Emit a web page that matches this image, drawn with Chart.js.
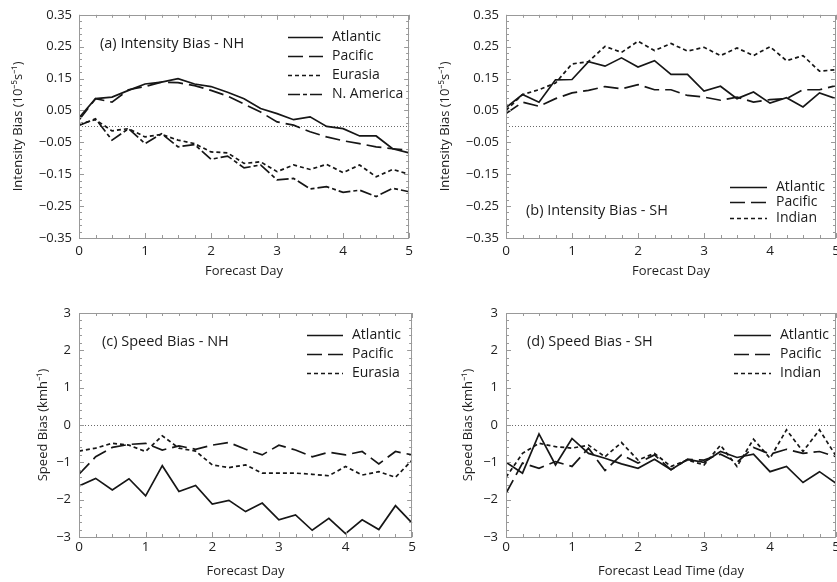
<!DOCTYPE html>
<html>
<head>
<meta charset="utf-8">
<script src="https://cdn.jsdelivr.net/npm/chart.js@4.4.0/dist/chart.umd.min.js"></script>
<style>
  html, body { margin: 0; padding: 0; background: #fff; width: 837px; height: 582px; overflow: hidden; }
  canvas { position: absolute; }
</style>
</head>
<body>
<canvas id="panelA" width="418" height="290" style="left:0;top:0"></canvas>
<canvas id="panelB" width="440" height="290" style="left:417px;top:0"></canvas>
<canvas id="panelC" width="418" height="292" style="left:0;top:290px"></canvas>
<canvas id="panelD" width="440" height="292" style="left:417px;top:290px"></canvas>
<script>
// forecast days (every 6 h)
var days = [0, 0.25, 0.5, 0.75, 1, 1.25, 1.5, 1.75, 2, 2.25, 2.5, 2.75, 3, 3.25, 3.5, 3.75, 4, 4.25, 4.5, 4.75, 5];
var xTicks = [0, 1, 2, 3, 4, 5];
var intensityTicks = [-0.35, -0.25, -0.15, -0.05, 0.05, 0.15, 0.25, 0.35];
var speedTicks = [-3, -2, -1, 0, 1, 2, 3];

// (a) intensity bias NH
var nhIntAtlantic = [0.027, 0.087, 0.092, 0.113, 0.133, 0.139, 0.150, 0.133, 0.125, 0.107, 0.087, 0.056, 0.040, 0.021, 0.030, 0.000, -0.007, -0.030, -0.030, -0.070, -0.083];
var nhIntPacific = [0.020, 0.087, 0.076, 0.115, 0.125, 0.139, 0.137, 0.128, 0.113, 0.095, 0.070, 0.045, 0.014, 0.004, -0.017, -0.033, -0.045, -0.054, -0.064, -0.070, -0.075];
var nhIntEurasia = [0.007, 0.021, -0.014, -0.007, -0.033, -0.025, -0.043, -0.054, -0.080, -0.083, -0.116, -0.111, -0.142, -0.121, -0.135, -0.119, -0.145, -0.121, -0.158, -0.135, -0.150];
var nhIntAmerica = [0.003, 0.024, -0.043, -0.007, -0.054, -0.023, -0.064, -0.057, -0.103, -0.093, -0.130, -0.121, -0.168, -0.163, -0.196, -0.189, -0.207, -0.200, -0.220, -0.194, -0.205];

// (b) intensity bias SH
var shIntAtlantic = [0.059, 0.100, 0.076, 0.146, 0.147, 0.203, 0.189, 0.215, 0.186, 0.206, 0.163, 0.163, 0.111, 0.126, 0.087, 0.108, 0.073, 0.090, 0.061, 0.105, 0.087];
var shIntPacific = [0.040, 0.076, 0.063, 0.087, 0.105, 0.113, 0.125, 0.118, 0.131, 0.115, 0.115, 0.097, 0.092, 0.082, 0.092, 0.076, 0.084, 0.087, 0.115, 0.115, 0.128];
var shIntIndian = [0.050, 0.100, 0.115, 0.136, 0.196, 0.203, 0.251, 0.232, 0.267, 0.238, 0.260, 0.236, 0.248, 0.222, 0.246, 0.222, 0.250, 0.206, 0.222, 0.173, 0.178];

// (c) speed bias NH
var nhSpdAtlantic = [-1.63, -1.43, -1.74, -1.44, -1.90, -1.09, -1.78, -1.62, -2.12, -2.02, -2.32, -2.09, -2.54, -2.41, -2.82, -2.50, -2.91, -2.54, -2.80, -2.16, -2.63];
var nhSpdPacific = [-1.32, -0.85, -0.60, -0.52, -0.49, -0.67, -0.56, -0.65, -0.54, -0.47, -0.65, -0.80, -0.54, -0.67, -0.85, -0.73, -0.80, -0.71, -1.04, -0.71, -0.80];
var nhSpdEurasia = [-0.70, -0.62, -0.49, -0.54, -0.71, -0.29, -0.62, -0.70, -1.07, -1.14, -1.07, -1.29, -1.29, -1.29, -1.32, -1.36, -1.11, -1.34, -1.25, -1.40, -0.94];

// (d) speed bias SH
var shSpdAtlantic = [-1.00, -1.29, -0.24, -1.07, -0.36, -0.76, -0.89, -1.04, -1.16, -0.92, -1.20, -0.92, -1.00, -0.71, -0.87, -0.78, -1.25, -1.11, -1.54, -1.25, -1.56];
var shSpdPacific = [-1.83, -1.02, -1.16, -0.98, -1.11, -0.62, -1.22, -0.80, -1.02, -0.80, -1.20, -0.92, -0.94, -0.78, -1.00, -0.60, -0.78, -0.65, -0.76, -0.71, -0.85];
var shSpdIndian = [-1.40, -0.76, -0.49, -0.58, -0.62, -0.54, -0.85, -0.47, -0.94, -0.76, -1.11, -0.94, -1.07, -0.54, -1.11, -0.38, -0.89, -0.13, -0.71, -0.13, -0.83];

var lineDashes = {
  'Atlantic': [],
  'Pacific': [15, 6],
  'Eurasia': [4, 3],
  'Indian': [4, 3],
  'N. America': [12, 3, 4, 3]
};

Chart.defaults.font.family = '"Open Sans", sans-serif';
Chart.defaults.color = '#1e1e1e';

function series(label, values) {
  return {
    label: label,
    data: values.map(function(v, i) { return { x: days[i], y: v }; }),
    borderColor: '#161616',
    borderWidth: 1.7,
    borderDash: lineDashes[label],
    pointRadius: 0,
    tension: 0,
    fill: false
  };
}

function fmt(v, digits) {
  return v.toFixed(digits).replace('-', '\u2212');
}

// frame, inward ticks, zero line, panel label and legend inside the plot
var decor = {
  id: 'decor',
  beforeDatasetsDraw: function(chart, args, o) {
    var ctx = chart.ctx, a = chart.chartArea;
    var y0 = Math.round(chart.scales.y.getPixelForValue(0)) + 0.5;
    ctx.save();
    ctx.strokeStyle = '#6a6a6a';
    ctx.lineWidth = 1;
    ctx.setLineDash([1, 2]);
    ctx.beginPath();
    ctx.moveTo(a.left, y0);
    ctx.lineTo(a.right, y0);
    ctx.stroke();
    ctx.restore();
  },
  afterDatasetsDraw: function(chart, args, o) {
    var ctx = chart.ctx, a = chart.chartArea;
    var xs = chart.scales.x, ys = chart.scales.y;
    ctx.save();
    ctx.strokeStyle = '#999';
    ctx.lineWidth = 1;
    ctx.strokeRect(Math.round(a.left) + 0.5, Math.round(a.top) + 0.5, Math.round(a.width) - 1, Math.round(a.height));
    ctx.beginPath();
    for (var k = 0; k <= 20; k++) {
      var v = xs.min + k * 0.25;
      var px = Math.round(xs.getPixelForValue(v)) + 0.5;
      var len = k % 4 === 0 ? 5 : 3;
      ctx.moveTo(px, a.bottom); ctx.lineTo(px, a.bottom - len);
      ctx.moveTo(px, a.top); ctx.lineTo(px, a.top + len);
    }
    var step = o.yMinor;
    var n = Math.round((ys.max - ys.min) / step);
    for (var j = 0; j <= n; j++) {
      var py = Math.round(ys.getPixelForValue(ys.min + j * step)) + 0.5;
      var l2 = j % 5 === 0 ? 5 : 3;
      ctx.moveTo(a.left, py); ctx.lineTo(a.left + l2, py);
      ctx.moveTo(a.right, py); ctx.lineTo(a.right - l2, py);
    }
    ctx.stroke();

    // panel label
    ctx.fillStyle = '#1a1a1a';
    ctx.textBaseline = 'middle';
    ctx.textAlign = 'left';
    ctx.font = '14.5px "Open Sans"';
    ctx.fillText(o.title, a.left + o.titleDx, a.top + o.titleDy);

    // legend
    ctx.font = '14px "Open Sans"';
    chart.data.datasets.forEach(function(ds, i) {
      var yy = Math.round(a.top + o.legendDy + i * o.legendGap) + 0.5;
      ctx.strokeStyle = ds.borderColor;
      ctx.lineWidth = ds.borderWidth;
      ctx.setLineDash(ds.borderDash);
      ctx.beginPath();
      ctx.moveTo(a.left + o.legendDx, yy);
      ctx.lineTo(a.left + o.legendDx + o.legendLen, yy);
      ctx.stroke();
      ctx.fillText(ds.label, a.left + o.legendDx + o.legendLen + 9, yy);
    });
    ctx.restore();
  }
};

function makePanel(id, cfg) {
  var yTicks = cfg.yTicks;
  new Chart(document.getElementById(id), {
    type: 'line',
    data: { datasets: cfg.datasets },
    plugins: [decor],
    options: {
      responsive: false,
      animation: false,
      layout: { padding: { top: cfg.padTop, right: cfg.padRight, left: 0, bottom: 0 } },
      scales: {
        x: {
          type: 'linear',
          min: 0,
          max: 5,
          afterBuildTicks: function(s) { s.ticks = xTicks.map(function(v) { return { value: v }; }); },
          afterFit: function(s) { s.height = cfg.xHeight; },
          grid: { display: false, drawTicks: false },
          border: { display: false },
          ticks: { padding: cfg.xTickPad, font: { size: 13.5 }, maxRotation: 0 },
          title: { display: true, text: cfg.xTitle, font: { size: 13 }, padding: { top: 0, bottom: cfg.xTitlePad } }
        },
        y: {
          min: yTicks[0],
          max: yTicks[yTicks.length - 1],
          afterBuildTicks: function(s) { s.ticks = yTicks.map(function(v) { return { value: v }; }); },
          afterFit: function(s) { s.width = cfg.yWidth; },
          grid: { display: false, drawTicks: false },
          border: { display: false },
          ticks: {
            padding: cfg.yTickPad,
            font: { size: 13 },
            callback: function(v) { return fmt(v, cfg.digits); }
          },
          title: { display: true, text: cfg.yTitle, font: { size: 13 }, padding: { top: cfg.yTitlePad, bottom: 0 } }
        }
      },
      plugins: {
        legend: { display: false },
        tooltip: { enabled: false },
        decor: {
          yMinor: cfg.yMinor,
          title: cfg.title,
          titleDx: cfg.titleDx, titleDy: cfg.titleDy,
          legendDx: cfg.legendDx, legendDy: cfg.legendDy,
          legendGap: cfg.legendGap, legendLen: cfg.legendLen
        }
      }
    }
  });
}

makePanel('panelA', {
  datasets: [series('Atlantic', nhIntAtlantic), series('Pacific', nhIntPacific), series('Eurasia', nhIntEurasia), series('N. America', nhIntAmerica)],
  yTicks: intensityTicks, digits: 2, yMinor: 0.02,
  yTitle: 'Intensity Bias (10\u207B\u2075s\u207B\u00B9)', xTitle: 'Forecast Day',
  padTop: 14, padRight: 6, yWidth: 79, xHeight: 52,
  xTickPad: 5, yTickPad: 7, xTitlePad: 10.5, yTitlePad: 10,
  title: '(a) Intensity Bias - NH', titleDx: 21, titleDy: 29,
  legendDx: 209, legendDy: 22, legendGap: 19, legendLen: 35
});

makePanel('panelB', {
  datasets: [series('Atlantic', shIntAtlantic), series('Pacific', shIntPacific), series('Indian', shIntIndian)],
  yTicks: intensityTicks, digits: 2, yMinor: 0.02,
  yTitle: 'Intensity Bias (10\u207B\u2075s\u207B\u00B9)', xTitle: 'Forecast Day',
  padTop: 14, padRight: 21, yWidth: 89, xHeight: 52,
  xTickPad: 5, yTickPad: 7, xTitlePad: 10.5, yTitlePad: 20,
  title: '(b) Intensity Bias - SH', titleDx: 20, titleDy: 196,
  legendDx: 224, legendDy: 172, legendGap: 15.5, legendLen: 37
});

makePanel('panelC', {
  datasets: [series('Atlantic', nhSpdAtlantic), series('Pacific', nhSpdPacific), series('Eurasia', nhSpdEurasia)],
  yTicks: speedTicks, digits: 0, yMinor: 0.2,
  yTitle: 'Speed Bias (kmh\u207B\u00B9)', xTitle: 'Forecast Day',
  padTop: 23, padRight: 5, yWidth: 79, xHeight: 45,
  xTickPad: 2, yTickPad: 8, xTitlePad: 2.5, yTitlePad: 35,
  title: '(c) Speed Bias - NH', titleDx: 23, titleDy: 29,
  legendDx: 228, legendDy: 22, legendGap: 19, legendLen: 36
});

makePanel('panelD', {
  datasets: [series('Atlantic', shSpdAtlantic), series('Pacific', shSpdPacific), series('Indian', shSpdIndian)],
  yTicks: speedTicks, digits: 0, yMinor: 0.2,
  yTitle: 'Speed Bias (kmh\u207B\u00B9)', xTitle: 'Forecast Lead Time (day',
  padTop: 23, padRight: 21, yWidth: 89, xHeight: 45,
  xTickPad: 2, yTickPad: 8, xTitlePad: 2.5, yTitlePad: 43.5,
  title: '(d) Speed Bias - SH', titleDx: 21, titleDy: 29,
  legendDx: 228, legendDy: 22, legendGap: 19, legendLen: 37
});
</script>
</body>
</html>
